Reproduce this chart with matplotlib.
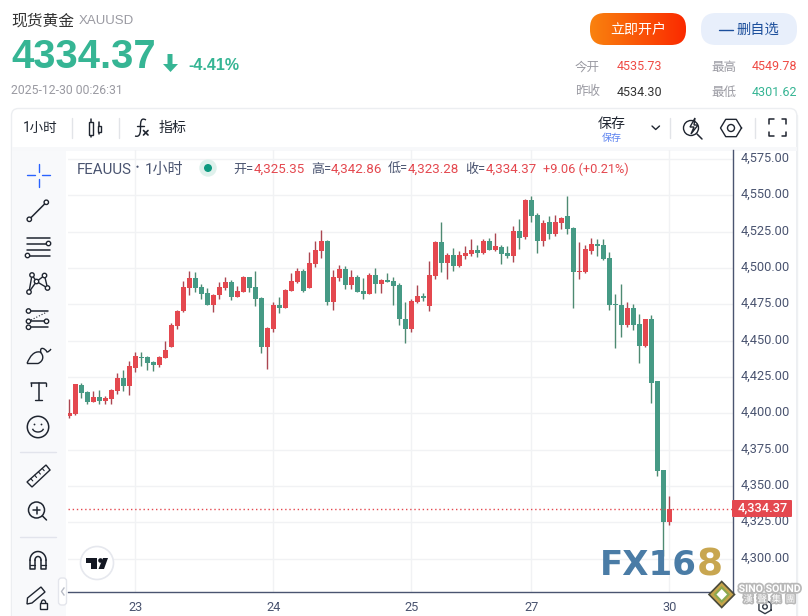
import numpy as np
import matplotlib
matplotlib.use("Agg")
import matplotlib.pyplot as plt
import matplotlib.patheffects as pe
from matplotlib.patches import Circle, FancyBboxPatch, PathPatch, Polygon, Rectangle
from matplotlib.path import Path
from matplotlib.transforms import ScaledTranslation

# 1시간봉 데이터
opens = [4398.4, 4399.6, 4419.5, 4414.7, 4407.8, 4411.3, 4408.5, 4409.9, 4415.4, 4424.4,
         4418.9, 4431.3, 4438.8, 4438.8, 4435.4, 4433.3, 4438.1, 4445.7, 4460.2, 4470.5,
         4486.4, 4493.2, 4487.0, 4482.9, 4474.7, 4481.5, 4486.4, 4490.5, 4480.2, 4483.6,
         4493.9, 4487.0, 4479.5, 4445.7, 4458.1, 4474.7, 4472.3, 4484.0, 4490.2, 4497.8,
         4486.1, 4502.6, 4511.6, 4518.4, 4476.4, 4493.0, 4499.2, 4488.1, 4493.7, 4484.0,
         4481.9, 4495.0, 4488.8, 4491.6, 4490.9, 4488.1, 4464.7, 4457.8, 4476.4, 4480.6,
         4473.7, 4494.3, 4517.8, 4503.3, 4508.8, 4501.2, 4508.1, 4509.5, 4512.2, 4510.2,
         4518.4, 4512.4, 4514.4, 4510.3, 4508.2, 4525.5, 4521.3, 4546.8, 4536.5, 4518.6,
         4531.7, 4523.4, 4531.0, 4535.8, 4527.5, 4497.2, 4497.2, 4511.7, 4516.5, 4515.8,
         4506.9, 4475.2, 4474.5, 4460.7, 4472.4, 4461.4, 4446.3, 4464.9, 4422.2, 4361.0,
         4325.35]
highs = [4409.9, 4420.2, 4420.9, 4415.4, 4415.4, 4416.1, 4412.0, 4416.8, 4427.8, 4429.9,
         4436.1, 4442.3, 4442.3, 4439.5, 4436.1, 4439.5, 4449.9, 4462.3, 4471.2, 4491.2,
         4498.1, 4497.4, 4489.1, 4486.4, 4482.2, 4490.5, 4493.9, 4491.9, 4487.7, 4494.6,
         4493.9, 4498.1, 4480.2, 4459.5, 4476.7, 4480.2, 4485.4, 4496.4, 4499.8, 4499.2,
         4510.9, 4518.4, 4526.0, 4519.1, 4498.5, 4501.9, 4501.2, 4498.5, 4495.0, 4493.0,
         4496.4, 4499.8, 4492.3, 4496.4, 4493.7, 4489.5, 4476.4, 4478.5, 4488.1, 4482.6,
         4504.7, 4518.4, 4531.5, 4510.2, 4513.6, 4511.6, 4515.0, 4519.8, 4515.7, 4519.8,
         4520.5, 4524.1, 4515.8, 4515.1, 4528.9, 4533.7, 4547.5, 4549.78, 4537.9, 4533.1,
         4535.8, 4536.5, 4535.1, 4549.5, 4528.2, 4517.9, 4515.8, 4520.6, 4520.0, 4520.0,
         4511.0, 4482.1, 4489.0, 4476.6, 4475.2, 4468.3, 4464.9, 4467.6, 4422.2, 4361.0,
         4342.86]
lows = [4397.0, 4398.9, 4410.8, 4406.5, 4407.8, 4406.5, 4406.5, 4406.5, 4413.3, 4415.4,
        4412.7, 4428.5, 4432.6, 4429.9, 4429.2, 4431.9, 4438.1, 4445.7, 4458.1, 4469.8,
        4481.5, 4483.6, 4478.8, 4474.7, 4469.8, 4478.8, 4485.0, 4478.1, 4480.2, 4483.6,
        4483.6, 4474.0, 4441.6, 4430.6, 4456.1, 4469.1, 4472.3, 4484.0, 4489.5, 4483.3,
        4486.1, 4500.5, 4506.7, 4474.4, 4470.9, 4490.9, 4485.4, 4485.4, 4483.3, 4478.5,
        4481.9, 4482.6, 4482.6, 4490.2, 4474.4, 4460.6, 4448.2, 4455.8, 4475.7, 4477.1,
        4470.2, 4492.3, 4497.1, 4492.3, 4497.8, 4500.5, 4506.0, 4508.1, 4507.4, 4509.5,
        4512.2, 4511.7, 4502.7, 4506.9, 4504.1, 4513.1, 4520.0, 4531.7, 4510.3, 4515.1,
        4520.0, 4522.0, 4526.8, 4523.4, 4472.4, 4492.4, 4496.5, 4509.6, 4508.2, 4505.5,
        4471.1, 4444.9, 4452.5, 4459.3, 4457.3, 4434.6, 4445.6, 4407.0, 4356.9, 4301.62,
        4323.28]
closes = [4400.2, 4420.2, 4414.0, 4408.1, 4411.3, 4408.5, 4410.6, 4416.1, 4424.4, 4418.9,
          4432.6, 4439.5, 4438.4, 4434.7, 4433.3, 4438.8, 4443.7, 4460.9, 4470.5, 4487.0,
          4493.2, 4486.4, 4482.2, 4474.7, 4481.5, 4487.0, 4490.5, 4480.2, 4484.3, 4493.9,
          4486.4, 4478.8, 4445.7, 4458.8, 4474.7, 4472.6, 4484.7, 4490.9, 4497.8, 4484.0,
          4503.3, 4512.2, 4518.4, 4476.4, 4493.7, 4499.2, 4488.1, 4493.7, 4483.3, 4481.9,
          4495.0, 4488.8, 4491.6, 4490.2, 4487.5, 4464.7, 4457.8, 4477.1, 4480.6, 4479.2,
          4495.0, 4517.8, 4503.3, 4508.8, 4501.2, 4508.8, 4510.2, 4512.2, 4510.2, 4518.4,
          4512.2, 4515.0, 4509.6, 4508.2, 4525.5, 4520.6, 4546.8, 4535.8, 4518.6, 4531.0,
          4523.4, 4531.7, 4534.4, 4526.8, 4497.2, 4497.9, 4513.1, 4516.5, 4515.1, 4506.2,
          4474.5, 4474.5, 4460.7, 4472.4, 4460.7, 4446.3, 4464.9, 4420.9, 4360.3, 4325.2,
          4334.37]

price_ticks = [4300, 4325, 4350, 4375, 4400, 4425, 4450, 4475, 4500, 4525, 4550, 4575]
day_labels = ["23", "24", "25", "27", "30"]
day_positions = [11, 34, 57, 77, 100]
last_price = 4334.37

RED = "#e4484f"
GREEN = "#469a85"
TEAL = "#36b594"
RED_WICK = "#ab4651"
GREEN_WICK = "#4e8a72"
SLATE = "#4a5470"
GRID = "#f1f2f4"
INK = "#1f2530"
FONTS = ["Roboto", "Noto Sans CJK SC", "DejaVu Sans"]
ARIAL = ["Liberation Sans", "Noto Sans CJK SC"]
W, H = 808, 616


def main():
    fig = plt.figure(figsize=(W / 100, H / 100), dpi=100, facecolor="white")

    # 1. 배경용 / 전경용 축 (픽셀 좌표)
    bg = fig.add_axes([0, 0, 1, 1], zorder=0)
    fg = fig.add_axes([0, 0, 1, 1], zorder=2)
    for a in (bg, fg):
        a.set_xlim(0, W)
        a.set_ylim(H, 0)
        a.axis("off")

    def txt(x, y, s, px, color="#222222", ha="left", weight="normal", family=FONTS):
        fg.text(x, y + 1, s, fontsize=px * 0.72, color=color, ha=ha, va="center",
                family=family, fontweight=weight)

    def line(xs, ys, color=INK, lw=1.1, ls="-"):
        fg.plot(xs, ys, color=color, lw=lw, ls=ls, solid_capstyle="round")

    def dot(x, y, r=2.2, color=INK):
        fg.add_patch(Circle((x, y), r, fc="white", ec=color, lw=1.0, zorder=5))

    # 2. 캔들 차트
    x0 = 68.0
    x1 = 732.5
    y_top = 150.0
    y_bot = 591.5
    ax = fig.add_axes([x0 / W, 1 - y_bot / H, (x1 - x0) / W, (y_bot - y_top) / H], zorder=1)
    ax.patch.set_alpha(0)
    ax.set_xlim(-0.22, 110.55)
    ax.set_ylim(4277.4, 4581.2)

    idx = np.arange(len(opens))
    o = np.array(opens)
    c = np.array(closes)
    colors = [RED if cc >= oo else GREEN for oo, cc in zip(opens, closes)]
    wicks = [RED_WICK if cc >= oo else GREEN_WICK for oo, cc in zip(opens, closes)]
    ax.vlines(idx, lows, highs, colors=wicks, lw=1.0, zorder=3)
    ax.bar(idx, np.maximum(np.abs(c - o), 0.7), bottom=np.minimum(o, c), width=0.84,
           color=colors, zorder=4, linewidth=0)
    ax.axhline(last_price, color=RED, lw=1.0, ls=(0, (1, 2)), zorder=5)

    ax.set_yticks(price_ticks)
    ax.set_yticklabels([f"{v:,.2f}" for v in price_ticks])
    ax.yaxis.tick_right()
    ax.set_xticks(day_positions)
    ax.set_xticklabels(day_labels)
    ax.tick_params(axis="both", length=0, labelcolor=SLATE, labelsize=9.2)
    ax.tick_params(axis="y", pad=5.5)
    ax.tick_params(axis="x", pad=7)
    up = ScaledTranslation(0, 1.5 / 72, fig.dpi_scale_trans)
    for label in ax.get_yticklabels():
        label.set_family(FONTS)
        label.set_transform(label.get_transform() + up)
    for label in ax.get_xticklabels():
        label.set_family(FONTS)
    ax.grid(True, color=GRID, lw=1.0, zorder=0)
    ax.set_axisbelow(True)
    for side in ("left", "top"):
        ax.spines[side].set_visible(False)
    for side in ("right", "bottom"):
        ax.spines[side].set_color(SLATE)
        ax.spines[side].set_linewidth(1.0)

    # 3. 상단 헤더
    txt(11, 20.5, "现货黄金", 15.8, "#333333")
    txt(79, 20, "XAUUSD", 13.2, "#9a9aa2", family=ARIAL)
    txt(11, 56, "4334.37", 40, TEAL, weight="bold", family=ARIAL)
    fg.add_patch(Polygon([[167.5, 54], [172.5, 54], [172.5, 64], [178, 64], [170.5, 72], [163, 64], [167.5, 64]],
                         fc=TEAL, ec="none"))
    txt(188, 64, "-4.41%", 16, TEAL, weight="bold", family=ARIAL)
    txt(11, 90, "2025-12-30 00:26:31", 12.3, "#9a9aa2")

    grad = np.linspace(0, 1, 128).reshape(1, -1)
    cmap = matplotlib.colors.LinearSegmentedColormap.from_list("btn", ["#f9820f", "#fb2a00"])
    im = bg.imshow(grad, extent=(590, 686, 45, 13), cmap=cmap, aspect="auto", zorder=2)
    btn = FancyBboxPatch((590, 13), 96, 32, boxstyle="round,pad=0,rounding_size=15", transform=bg.transData)
    im.set_clip_path(btn)
    bg.set_xlim(0, W)
    bg.set_ylim(H, 0)
    txt(638, 28.5, "立即开户", 14, "white", ha="center")
    bg.add_patch(FancyBboxPatch((701, 13), 96, 32, boxstyle="round,pad=0,rounding_size=15",
                                fc="#e8effb", ec="none"))
    line([719, 733], [30, 30], "#1c4f9c", 1.0)
    txt(736, 28.5, "删自选", 14.3, "#1c4f9c")

    txt(575, 66, "今开", 12.5, "#9a9aa2")
    txt(617, 66, "4535.73", 12.5, "#ef4b45")
    txt(711, 66, "最高", 12.5, "#9a9aa2")
    txt(752, 66, "4549.78", 12.5, "#ef4b45")
    txt(575, 91, "昨收", 12.5, "#9a9aa2")
    txt(617, 91, "4534.30", 12.5, "#333333")
    txt(711, 91, "最低", 12.5, "#9a9aa2")
    txt(752, 91, "4301.62", 12.5, TEAL)

    # 4. 차트 카드와 툴바
    bg.add_patch(FancyBboxPatch((11.5, 108.5), 785.3, 520, boxstyle="round,pad=0,rounding_size=7",
                                fc="white", ec="#eceef1", lw=1.0))
    bg.add_patch(Rectangle((12, 147), 784.5, 4, fc="#f7f8fa", ec="none"))
    bg.add_patch(Rectangle((12, 151), 54, 465, fc="#f8f9fb", ec="none"))

    txt(23, 127, "1小时", 13.5, INK)
    for sx in (72, 119, 670, 755):
        line([sx, sx], [118, 138], "#e2e4e8", 1.0)
    line([90.7, 90.7], [119, 137])
    line([99.3, 99.3], [122, 134])
    fg.add_patch(Rectangle((89, 122), 3.5, 13, fc="white", ec=INK, lw=1.0, zorder=5))
    fg.add_patch(Rectangle((97.5, 125.5), 3.5, 6, fc="white", ec=INK, lw=1.0, zorder=5))
    fx = Path([(146, 120), (141, 117), (140.5, 122), (140.5, 126), (140.5, 130), (141, 138), (135, 136)],
              [Path.MOVETO, Path.CURVE4, Path.CURVE4, Path.CURVE4, Path.CURVE4, Path.CURVE4, Path.CURVE4])
    fg.add_patch(PathPatch(fx, fc="none", ec=INK, lw=1.0))
    line([137, 144], [125.5, 125.5], lw=1.0)
    line([143.5, 148], [130.5, 135], lw=1.2)
    line([148, 143.5], [130.5, 135], lw=1.2)
    txt(159, 127, "指标", 14, INK)
    txt(612, 123, "保存", 14, INK, ha="center")
    txt(612, 137, "保存", 10, "#5b82f0", ha="center")
    line([652, 655.7, 659.5], [126, 129.5, 126], lw=1.0)

    # 번개 돋보기, 육각형, 전체화면
    fg.add_patch(Circle((691, 128), 7.5, fc="none", ec=INK, lw=1.0))
    line([697, 702], [134, 139])
    fg.add_patch(Polygon([[695, 118], [690, 127], [694, 127], [691, 134], [698, 125], [694, 125]],
                         fc="white", ec=INK, lw=1.0, zorder=5))
    ang = np.deg2rad(np.arange(0, 361, 60))
    fg.plot(731 + 10.5 * np.cos(ang), 128 + 10 * np.sin(ang), color=INK, lw=1.0)
    fg.add_patch(Circle((731, 128), 3.5, fc="none", ec=INK, lw=1.0))
    for sx, sy in ((769, 119), (786, 119), (769, 136), (786, 136)):
        dx = 4.5 if sx == 769 else -4.5
        dy = 4.5 if sy == 119 else -4.5
        line([sx + dx, sx, sx], [sy, sy, sy + dy], lw=1.1)

    # 5. 범례 줄
    txt(77, 168.5, "FEAUUS", 15, SLATE)
    fg.add_patch(Circle((137.5, 166.7), 1.1, fc=SLATE, ec="none"))
    txt(145, 168.5, "1小时", 15, SLATE)
    fg.add_patch(Circle((208, 168), 8.7, fc="#dff1ec", ec="none"))
    fg.add_patch(Circle((208, 168), 4, fc="#0f9a80", ec="none"))
    for sx, s in ((233, "开="), (311, "高="), (388, "低="), (465, "收=")):
        txt(sx, 168.5, s, 13, SLATE)
    for sx, s in ((254, "4,325.35"), (331, "4,342.86"), (408, "4,323.28"), (486, "4,334.37")):
        txt(sx, 168.5, s, 13.4, RED)
    txt(543, 168.5, "+9.06 (+0.21%)", 12.8, RED)

    # 6. 현재가 태그
    fg.add_patch(FancyBboxPatch((732, 500), 60, 17, boxstyle="round,pad=0,rounding_size=1",
                                fc=RED, ec="none", zorder=6))
    fg.text(763, 508, "4,334.37", fontsize=9.2, color="white", ha="center", va="center",
            family=FONTS, fontweight="medium", zorder=7)

    # 7. 왼쪽 도구 모음 아이콘
    BLUE = "#2962ff"
    line([27, 35], [175.4, 175.4], BLUE, 1.0)
    line([42, 50], [175.4, 175.4], BLUE, 1.0)
    line([38.5, 38.5], [164, 172], BLUE, 1.0)
    line([38.5, 38.5], [179, 187], BLUE, 1.0)

    line([29.3, 46.3], [219.3, 202.3])
    dot(29.3, 219.3)
    dot(46.3, 202.3)

    for yy, xa, xb in ((237.5, 27, 50), (243.5, 27, 47), (249.5, 27, 50), (255.5, 30, 50)):
        line([xa, xb], [yy, yy])
    dot(48.5, 243.5)
    dot(27.5, 255.5)

    pts = {"a": (32, 275), "b": (44.5, 275.5), "c": (36.5, 281.5), "d": (47.5, 288), "e": (29, 292)}
    for p, q in ("ae", "ac", "ce", "cb", "bd", "cd"):
        line([pts[p][0], pts[q][0]], [pts[p][1], pts[q][1]], lw=1.0)
    for v in pts.values():
        dot(*v)

    line([31, 48], [311, 311])
    line([31, 48], [321.3, 321.3])
    line([31, 48], [327.3, 327.3])
    line([31, 47], [320, 312], lw=0.8, ls=":")
    dot(28.5, 311)
    dot(28.5, 321.3)
    dot(46.5, 321.3)
    dot(28.5, 327.3)

    brush = Path([(27, 363.5), (30, 356), (34, 351), (40, 352), (44, 355), (44, 361), (38, 363.5), (27, 363.5)],
                 [Path.MOVETO, Path.CURVE4, Path.CURVE4, Path.CURVE4, Path.CURVE4, Path.CURVE4, Path.CURVE4, Path.LINETO])
    fg.add_patch(PathPatch(brush, fc="none", ec=INK, lw=1.0))
    hook = Path([(41, 353), (39, 346), (45, 348), (47, 352), (49, 352), (51, 349)],
                [Path.MOVETO, Path.CURVE4, Path.CURVE4, Path.CURVE4, Path.CURVE3, Path.CURVE3])
    fg.add_patch(PathPatch(hook, fc="none", ec=INK, lw=1.0))

    line([31, 46], [382.5, 382.5])
    line([31, 31], [382.5, 386], lw=1.0)
    line([46, 46], [382.5, 386], lw=1.0)
    line([38.5, 38.5], [382.5, 400])
    line([35, 42], [400, 400], lw=1.0)

    fg.add_patch(Circle((38, 427), 10.7, fc="none", ec=INK, lw=1.1))
    fg.add_patch(Circle((34.5, 424.5), 0.9, fc=INK, ec="none"))
    fg.add_patch(Circle((41.5, 424.5), 0.9, fc=INK, ec="none"))
    t = np.deg2rad(np.linspace(20, 160, 30))
    fg.plot(38 + 5.5 * np.cos(t), 428 + 4 * np.sin(t), color=INK, lw=1.0)

    line([20, 56], [451.7, 451.7], "#e2e4ec", 1.0)
    fg.add_patch(Polygon([[27, 482], [46, 465], [50, 470], [32, 487]], fc="none", ec=INK, lw=1.0))
    for k in range(1, 5):
        mx = 27 + k * 3.8
        my = 482 - k * 3.4
        line([mx, mx + 2], [my, my + 2.3], lw=0.8)

    fg.add_patch(Circle((36.5, 510), 8, fc="none", ec=INK, lw=1.1))
    line([33, 40], [510, 510])
    line([36.5, 36.5], [506.5, 513.5])
    line([42.5, 46.5], [516, 520])

    line([20, 56], [536.7, 536.7], "#e2e4ec", 1.0)
    tt = np.deg2rad(np.linspace(180, 360, 30))
    fg.plot(38 + 8 * np.cos(tt), 560 + 8.5 * np.sin(tt), color=INK, lw=1.1)
    fg.plot(38 + 3 * np.cos(tt), 560 + 3.5 * np.sin(tt), color=INK, lw=1.1)
    line([30, 30, 35, 35], [560, 569, 569, 560])
    line([41, 41, 46, 46], [560, 569, 569, 560])
    line([30, 35], [565, 565], lw=0.9)
    line([41, 46], [565, 565], lw=0.9)

    fg.add_patch(Polygon([[27.5, 598], [41, 587], [45, 592], [32, 603], [27, 604]], fc="none", ec=INK, lw=1.0))
    fg.add_patch(Rectangle((40, 603), 7, 6, fc="white", ec=INK, lw=1.0))
    tl = np.deg2rad(np.linspace(180, 360, 20))
    fg.plot(43.5 + 2.2 * np.cos(tl), 603 + 3 * np.sin(tl), color=INK, lw=1.0)

    fg.add_patch(FancyBboxPatch((58.5, 578), 8, 27, boxstyle="round,pad=0,rounding_size=3",
                                fc="white", ec="#e4e6ec", lw=1.0, zorder=6))
    fg.plot([64, 61.5, 64], [588, 591.5, 595], color="#b8bcc6", lw=1.0, zorder=7)

    # 8. TradingView 로고
    fg.add_patch(Circle((97, 563), 16.5, fc="white", ec="#e6e8ee", lw=1.2, zorder=6))
    fg.add_patch(Polygon([[86, 558], [97, 558], [97, 569], [91, 569], [91, 563], [86, 563]],
                         fc="#131722", ec="none", zorder=7))
    fg.add_patch(Circle((100.5, 560.5), 2.3, fc="#131722", ec="none", zorder=7))
    fg.add_patch(Polygon([[103, 558], [108, 558], [104, 569], [98.5, 569]], fc="#131722", ec="none", zorder=7))

    # 9. 오른쪽 경계와 아래 육각형
    line([796.8, 796.8], [115, 616], "#eef0f2", 1.0)
    fg.plot(765 + 7 * np.cos(ang + np.pi / 6), 606.7 + 7 * np.sin(ang + np.pi / 6), color="#333a45", lw=1.0, zorder=8)
    fg.add_patch(Circle((765, 606.7), 2.3, fc="none", ec="#333a45", lw=1.0, zorder=8))

    # 10. 워터마크
    fg.text(600, 565.5, "FX16", fontsize=24.5, fontweight="bold", family=["DejaVu Sans"],
            color="#4a7ca6", ha="left", va="center", zorder=8)
    fg.text(697, 565.5, "8", fontsize=27, fontweight="bold", family=["DejaVu Sans"],
            color="#c8a650", ha="left", va="center", zorder=8)
    fg.add_patch(Polygon([[721.7, 581.5], [734.5, 594.5], [721.7, 607.5], [709, 594.5]],
                         fc="#c6a44a", ec="#4a4a3a", lw=1.2, zorder=8))
    fg.add_patch(Polygon([[721.7, 587.5], [728.5, 594.5], [721.7, 601.5], [715, 594.5]],
                         fc="white", ec="#8aa850", lw=1.5, zorder=9))
    halo = [pe.withStroke(linewidth=2.5, foreground="#b8b8b8")]
    t1 = fg.text(769.5, 589, "SINO SOUND", fontsize=7.6, fontweight="bold", family=FONTS,
                 color="white", ha="center", va="center", zorder=9)
    t2 = fg.text(769.5, 599.5, "漢  聲  集  團", fontsize=6.8, family=FONTS,
                 color="white", ha="center", va="center", zorder=9)
    t1.set_path_effects(halo)
    t2.set_path_effects(halo)

    fig.savefig("out.png", dpi=100)


if __name__ == "__main__":
    main()
